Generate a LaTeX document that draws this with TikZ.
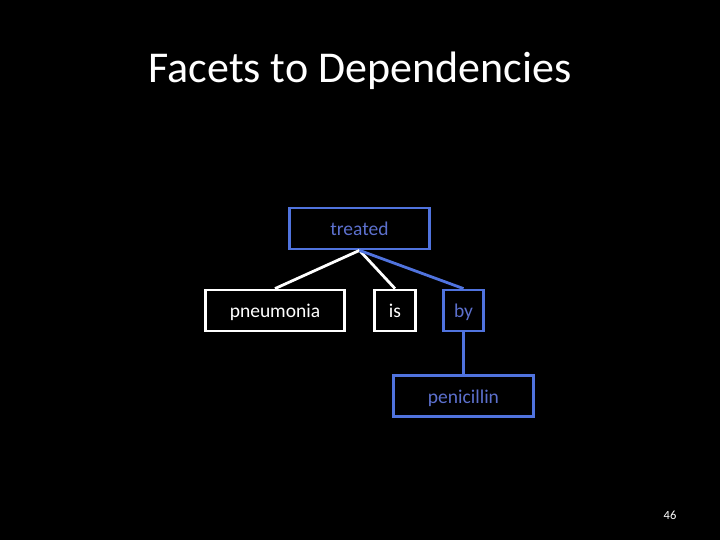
\documentclass[tikz,border=0pt]{standalone}
\usepackage{fontspec}
\setmainfont{Carlito}
\definecolor{boxblue}{RGB}{80,115,222}
\definecolor{txtblue}{RGB}{92,112,205}
\begin{document}
\begin{tikzpicture}[x=1pt,y=-1pt,
  boxbase/.style={line width=2.8pt,inner sep=0pt,minimum height=41pt,text height=14.4pt,text depth=0pt,font=\fontsize{19.5}{22}\selectfont},
  wbox/.style={boxbase,draw=white,text=white},
  bbox/.style={boxbase,draw=boxblue,text=txtblue},
  wedge/.style={draw=white,line width=2.8pt},
  bedge/.style={draw=boxblue,line width=2.8pt}]
\fill[black] (0,0) rectangle (720,540);
\useasboundingbox (0,0) rectangle (720,540);
\node[text=white,font=\fontsize{44}{52}\selectfont,anchor=base,inner sep=0pt] (title) at (360,83) {Facets to Dependencies};
\node[bbox,minimum width=140pt] (treated) at (359.5,228.5) {treated};
\node[wbox,minimum width=139pt] (pneu) at (275,310.5) {pneumonia};
\node[wbox,minimum width=41pt] (is) at (395,310.5) {is};
\node[bbox,minimum width=40pt] (by) at (463.5,310.5) {by};
\node[bbox,minimum width=140pt] (pen) at (463.5,396) {penicillin};
\draw[wedge] (treated.south) -- (pneu.north);
\draw[wedge] (treated.south) -- (is.north);
\draw[bedge] (treated.south) -- (by.north);
\draw[bedge] (by.south) -- (pen.north);
\node[text=white,font=\fontsize{12.5}{14}\selectfont] (num) at (670,515) {46};
\end{tikzpicture}
\end{document}
